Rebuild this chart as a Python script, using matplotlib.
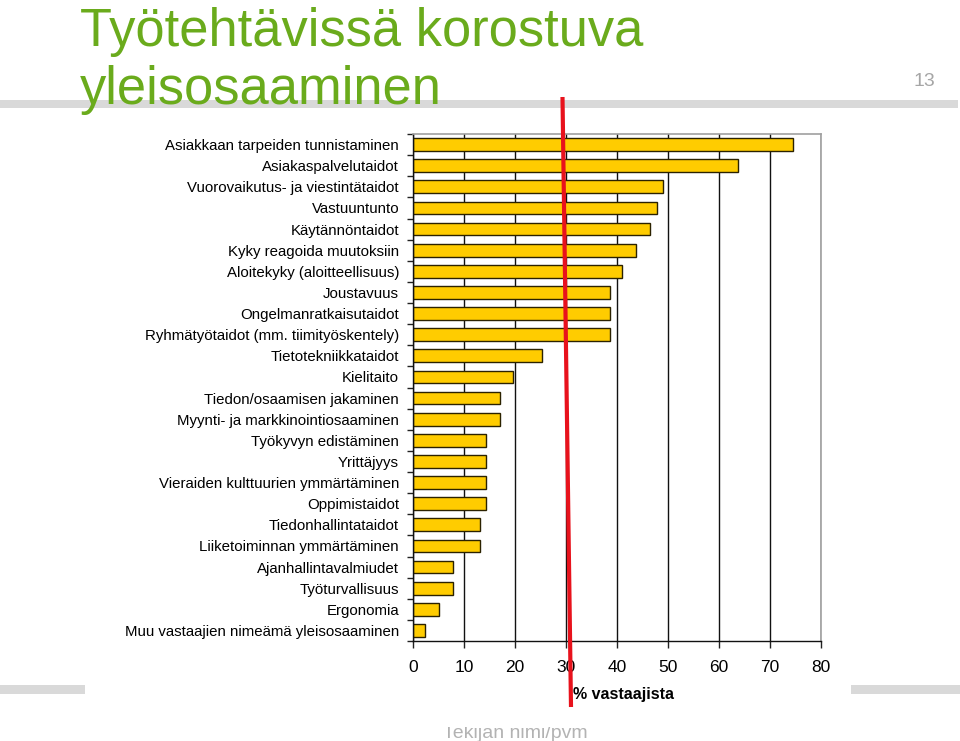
import matplotlib
matplotlib.use("Agg")
import matplotlib.pyplot as plt
from matplotlib.lines import Line2D
from matplotlib.patches import Rectangle

plt.rcParams['font.family'] = ['Liberation Sans', 'DejaVu Sans']

categories = [
    "Asiakkaan tarpeiden tunnistaminen",
    "Asiakaspalvelutaidot",
    "Vuorovaikutus- ja viestintätaidot",
    "Vastuuntunto",
    "Käytännöntaidot",
    "Kyky reagoida muutoksiin",
    "Aloitekyky (aloitteellisuus)",
    "Joustavuus",
    "Ongelmanratkaisutaidot",
    "Ryhmätyötaidot (mm. tiimityöskentely)",
    "Tietotekniikkataidot",
    "Kielitaito",
    "Tiedon/osaamisen jakaminen",
    "Myynti- ja markkinointiosaaminen",
    "Työkyvyn edistäminen",
    "Yrittäjyys",
    "Vieraiden kulttuurien ymmärtäminen",
    "Oppimistaidot",
    "Tiedonhallintataidot",
    "Liiketoiminnan ymmärtäminen",
    "Ajanhallintavalmiudet",
    "Työturvallisuus",
    "Ergonomia",
    "Muu vastaajien nimeämä yleisosaaminen",
]
values = [74.5, 63.7, 49.1, 47.8, 46.4, 43.7, 41.0, 38.6, 38.6, 38.6, 25.2, 19.7,
          17.1, 17.1, 14.4, 14.4, 14.4, 14.4, 13.2, 13.2, 7.8, 7.8, 5.1, 2.4]
x_ticks = [0, 10, 20, 30, 40, 50, 60, 70, 80]
x_label = "% vastaajista"
title_lines = ["Työtehtävissä korostuva", "yleisosaaminen"]
page_number = "13"
footer = "Tekijän nimi/pvm"

W, H = 960, 741
fig = plt.figure(figsize=(W / 100, H / 100), dpi=100)


def fx(x):
    return x / W


def fy(y):
    return 1 - y / H


# decorative grey bands
fig.patches.append(Rectangle((fx(0), fy(108)), fx(958), 8 / H, transform=fig.transFigure,
                             facecolor='#d9d9d9', edgecolor='none', zorder=0))
fig.patches.append(Rectangle((fx(0), fy(694)), fx(85), 9 / H, transform=fig.transFigure,
                             facecolor='#d9d9d9', edgecolor='none', zorder=0))
fig.patches.append(Rectangle((fx(851), fy(694)), fx(109), 9 / H, transform=fig.transFigure,
                             facecolor='#d9d9d9', edgecolor='none', zorder=0))

# title
fig.text(fx(80), fy(46), title_lines[0], fontsize=37.8, color='#6aab1c', va='baseline', ha='left', zorder=2)
fig.text(fx(80), fy(104), title_lines[1], fontsize=37.8, color='#6aab1c', va='baseline', ha='left', zorder=2)
fig.text(fx(935), fy(86), page_number, fontsize=14, color='#a6a6a6', va='baseline', ha='right')

# footer (partly hidden)
fig.text(fx(443), fy(738), footer, fontsize=14, color='#b3b3b3', va='baseline', ha='left', zorder=1)
fig.patches.append(Rectangle((fx(430), fy(727)), fx(180), 19 / H, transform=fig.transFigure,
                             facecolor='white', edgecolor='none', zorder=1.5))

# chart
ax = fig.add_axes([fx(413), fy(641), (821 - 413) / W, (641 - 134) / H])
n = len(categories)
pos = list(range(n))
ax.barh(pos, values, height=0.6, color='#FFCC00', edgecolor='#2b2200', linewidth=1.0, zorder=3)
ax.set_ylim(n - 0.5, -0.5)
ax.set_xlim(x_ticks[0], x_ticks[-1])
ax.set_xticks(x_ticks)
ax.set_xticklabels([str(t) for t in x_ticks])
ax.set_yticks(pos)
ax.set_yticklabels(categories, fontsize=10.8)
ax.set_yticks([i - 0.5 for i in range(n + 1)], minor=True)
ax.tick_params(axis='y', which='major', length=0, pad=10)
ax.tick_params(axis='y', which='minor', length=4, width=1, color='#222222', direction='out')
ax.tick_params(axis='x', which='major', length=5, width=1, color='#222222', pad=9, labelsize=12.5)
ax.set_axisbelow(True)
ax.grid(axis='x', color='#111111', linewidth=1.0)
for s in ['left', 'bottom']:
    ax.spines[s].set_color('#111111')
    ax.spines[s].set_linewidth(1.0)
    ax.spines[s].set_zorder(4)
for s in ['top', 'right']:
    ax.spines[s].set_color('#a0a0a0')
    ax.spines[s].set_linewidth(1.2)
    ax.spines[s].set_zorder(4)

fig.text(fx(573), fy(694), x_label, fontsize=11.5, fontweight='bold', va='center', ha='left')

# red hand-drawn marker line
fig.add_artist(Line2D([fx(562.5), fx(571)], [fy(97), fy(707)], transform=fig.transFigure,
                      color='#e8121c', linewidth=3.0, solid_capstyle='butt', zorder=10))

fig.savefig("out.png", dpi=100)
